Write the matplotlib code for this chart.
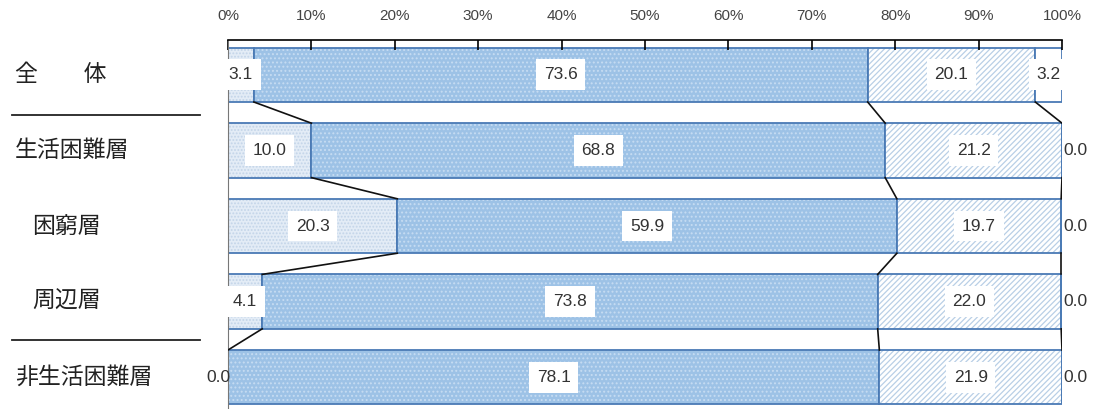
import numpy as np
import matplotlib
matplotlib.use('Agg')
import matplotlib.pyplot as plt

plt.rcParams['font.family'] = ['Liberation Sans', 'Noto Sans CJK JP', 'DejaVu Sans']

rows = ['全　　体', '生活困難層', '困窮層', '周辺層', '非生活困難層']
indent = [False, False, True, True, False]
seg1 = [3.1, 10.0, 20.3, 4.1, 0.0]
seg2 = [73.6, 68.8, 59.9, 73.8, 78.1]
seg3 = [20.1, 21.2, 19.7, 22.0, 21.9]
seg4 = [3.2, 0.0, 0.0, 0.0, 0.0]
xticks = [0, 10, 20, 30, 40, 50, 60, 70, 80, 90, 100]
xticklabels = ['%d%%' % t for t in xticks]

W, H = 1097, 409
fig = plt.figure(figsize=(W / 100, H / 100), dpi=100)
ax = fig.add_axes([228 / W, 0, (1062 - 228) / W, (H - 40) / H])

plt.rcParams['hatch.linewidth'] = 0.9
edge = '#4a7ab5'
h = 0.72
y = np.arange(len(rows))
segs = np.array([seg1, seg2, seg3, seg4])
lefts = np.vstack([np.zeros(len(rows)), np.cumsum(segs, axis=0)[:-1]])

styles = [
    dict(face='#e3ecf6', hatch='.....', hcol='#c3d4e8'),
    dict(face='#9dc2e6', hatch='....', hcol='#c6dcf2'),
    dict(face='#ffffff', hatch='//////', hcol='#b9cfe6'),
    dict(face='#ffffff', hatch=None, hcol='#ffffff'),
]

for k in range(4):
    st = styles[k]
    ax.barh(y, segs[k], left=lefts[k], height=h, color=st['face'],
            hatch=st['hatch'], edgecolor=st['hcol'], linewidth=0)
    ax.barh(y, segs[k], left=lefts[k], height=h, fill=False,
            edgecolor=edge, linewidth=1.3)

# connector lines between rows
cum = np.cumsum(segs, axis=0)
for i in range(len(rows) - 1):
    for k in range(3):
        ax.plot([cum[k][i], cum[k][i + 1]], [y[i] + h / 2, y[i + 1] - h / 2],
                color='#111111', lw=1.2, zorder=3)

# value labels
for i in range(len(rows)):
    for k in range(4):
        v = segs[k][i]
        if v == 0:
            xpos = -1.2 if k == 0 else 101.6
            ax.text(xpos, y[i], '%.1f' % v, ha='center', va='center',
                    fontsize=12.5, color='#333333', zorder=5)
        else:
            ax.text(lefts[k][i] + v / 2, y[i], '%.1f' % v, ha='center', va='center',
                    fontsize=12.5, color='#333333', zorder=5,
                    bbox=dict(boxstyle='square,pad=0.45', fc='white', ec='none'))

ax.set_xlim(0, 100)
ax.set_ylim(4.42, -0.46)
ax.set_xticks(xticks)
ax.set_xticklabels(xticklabels)
ax.xaxis.tick_top()
ax.tick_params(axis='x', direction='in', length=7, width=1.2, pad=12,
               labelsize=11, labelcolor='#444444')
ax.set_yticks([])
ax.spines['right'].set_visible(False)
ax.spines['bottom'].set_visible(False)
ax.spines['top'].set_linewidth(1.2)
ax.spines['left'].set_color('#777777')

# row labels and separators
for i, name in enumerate(rows):
    yf = ax.transData.transform((0, y[i]))[1] / H
    xf = (32 if indent[i] else 15) / W
    fig.text(xf, yf, name, ha='left', va='center', fontsize=16.5,
             color='#222222', family=['Noto Sans CJK JP', 'DejaVu Sans'])
for yy in [115, 340]:
    fig.add_artist(plt.Line2D([12 / W, 200 / W], [1 - yy / H, 1 - yy / H],
                              color='#222222', lw=1.3))

fig.savefig('out.png', dpi=100)
